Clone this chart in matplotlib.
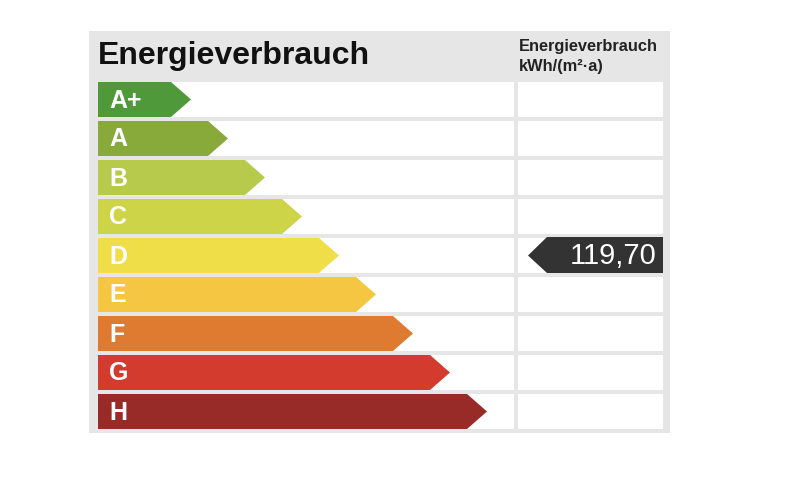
import matplotlib
matplotlib.use("Agg")
import matplotlib.pyplot as plt
from matplotlib.patches import Polygon, Rectangle

# ---- data ----
classes = ["A+", "A", "B", "C", "D", "E", "F", "G", "H"]
class_colors = ["#50993b", "#87aa3a", "#b8ca4c", "#cdd447", "#efde48",
                "#f5c642", "#df7b30", "#d43b2f", "#982a28"]
value = 119.70
value_label = "119,70"
rating = "D"
title = "Energieverbrauch"
unit_header = ["Energieverbrauch", "kWh/(m²·a)"]

plt.rcParams["font.family"] = ["Liberation Sans", "DejaVu Sans"]

fig = plt.figure(figsize=(7.92, 4.8), dpi=100)
ax = fig.add_axes([0, 0, 1, 1])
ax.set_xlim(0, 792)
ax.set_ylim(480, 0)
ax.axis("off")

# layout (pixels)
panel_l, panel_r, panel_t, panel_b = 89, 670, 31, 433
left_l, left_r = 98, 514
right_l, right_r = 518, 663
row_top0, row_pitch, row_h = 82, 39, 35
bar_base_tip, bar_step, head = 191, 37, 20

ax.add_patch(Rectangle((panel_l, panel_t), panel_r - panel_l, panel_b - panel_t,
                       facecolor="#e6e6e6", edgecolor="none"))

ax.text(left_l, 56, title, fontsize=23, fontweight="bold", color="#111111",
        va="center", ha="left")
for k, line in enumerate(unit_header):
    ax.text(right_l + 1, 46 + 21 * k, line, fontsize=11.8, fontweight="bold",
            color="#222222", va="center", ha="left")

for i, (c, col) in enumerate(zip(classes, class_colors)):
    top = row_top0 + i * row_pitch
    bot = top + row_h
    mid = (top + bot) / 2
    ax.add_patch(Rectangle((left_l, top), left_r - left_l, row_h,
                           facecolor="white", edgecolor="none"))
    ax.add_patch(Rectangle((right_l, top), right_r - right_l, row_h,
                           facecolor="white", edgecolor="none"))
    tip = bar_base_tip + i * bar_step
    ax.add_patch(Polygon([(left_l, top), (tip - head, top), (tip, mid),
                          (tip - head, bot), (left_l, bot)], closed=True,
                         facecolor=col, edgecolor="none"))
    ax.text(left_l + 11, mid + 1, c, fontsize=18, fontweight="bold",
            color="white", va="center", ha="left")
    if c == rating:
        vl = 528
        ax.add_patch(Polygon([(vl, mid), (vl + 19, top - 1), (right_r, top - 1),
                              (right_r, bot), (vl + 19, bot)], closed=True,
                             facecolor="#333333", edgecolor="none"))
        ax.text(right_r - 7, mid + 1, value_label, fontsize=21, color="white",
                va="center", ha="right")

fig.savefig("out.png", dpi=100)
